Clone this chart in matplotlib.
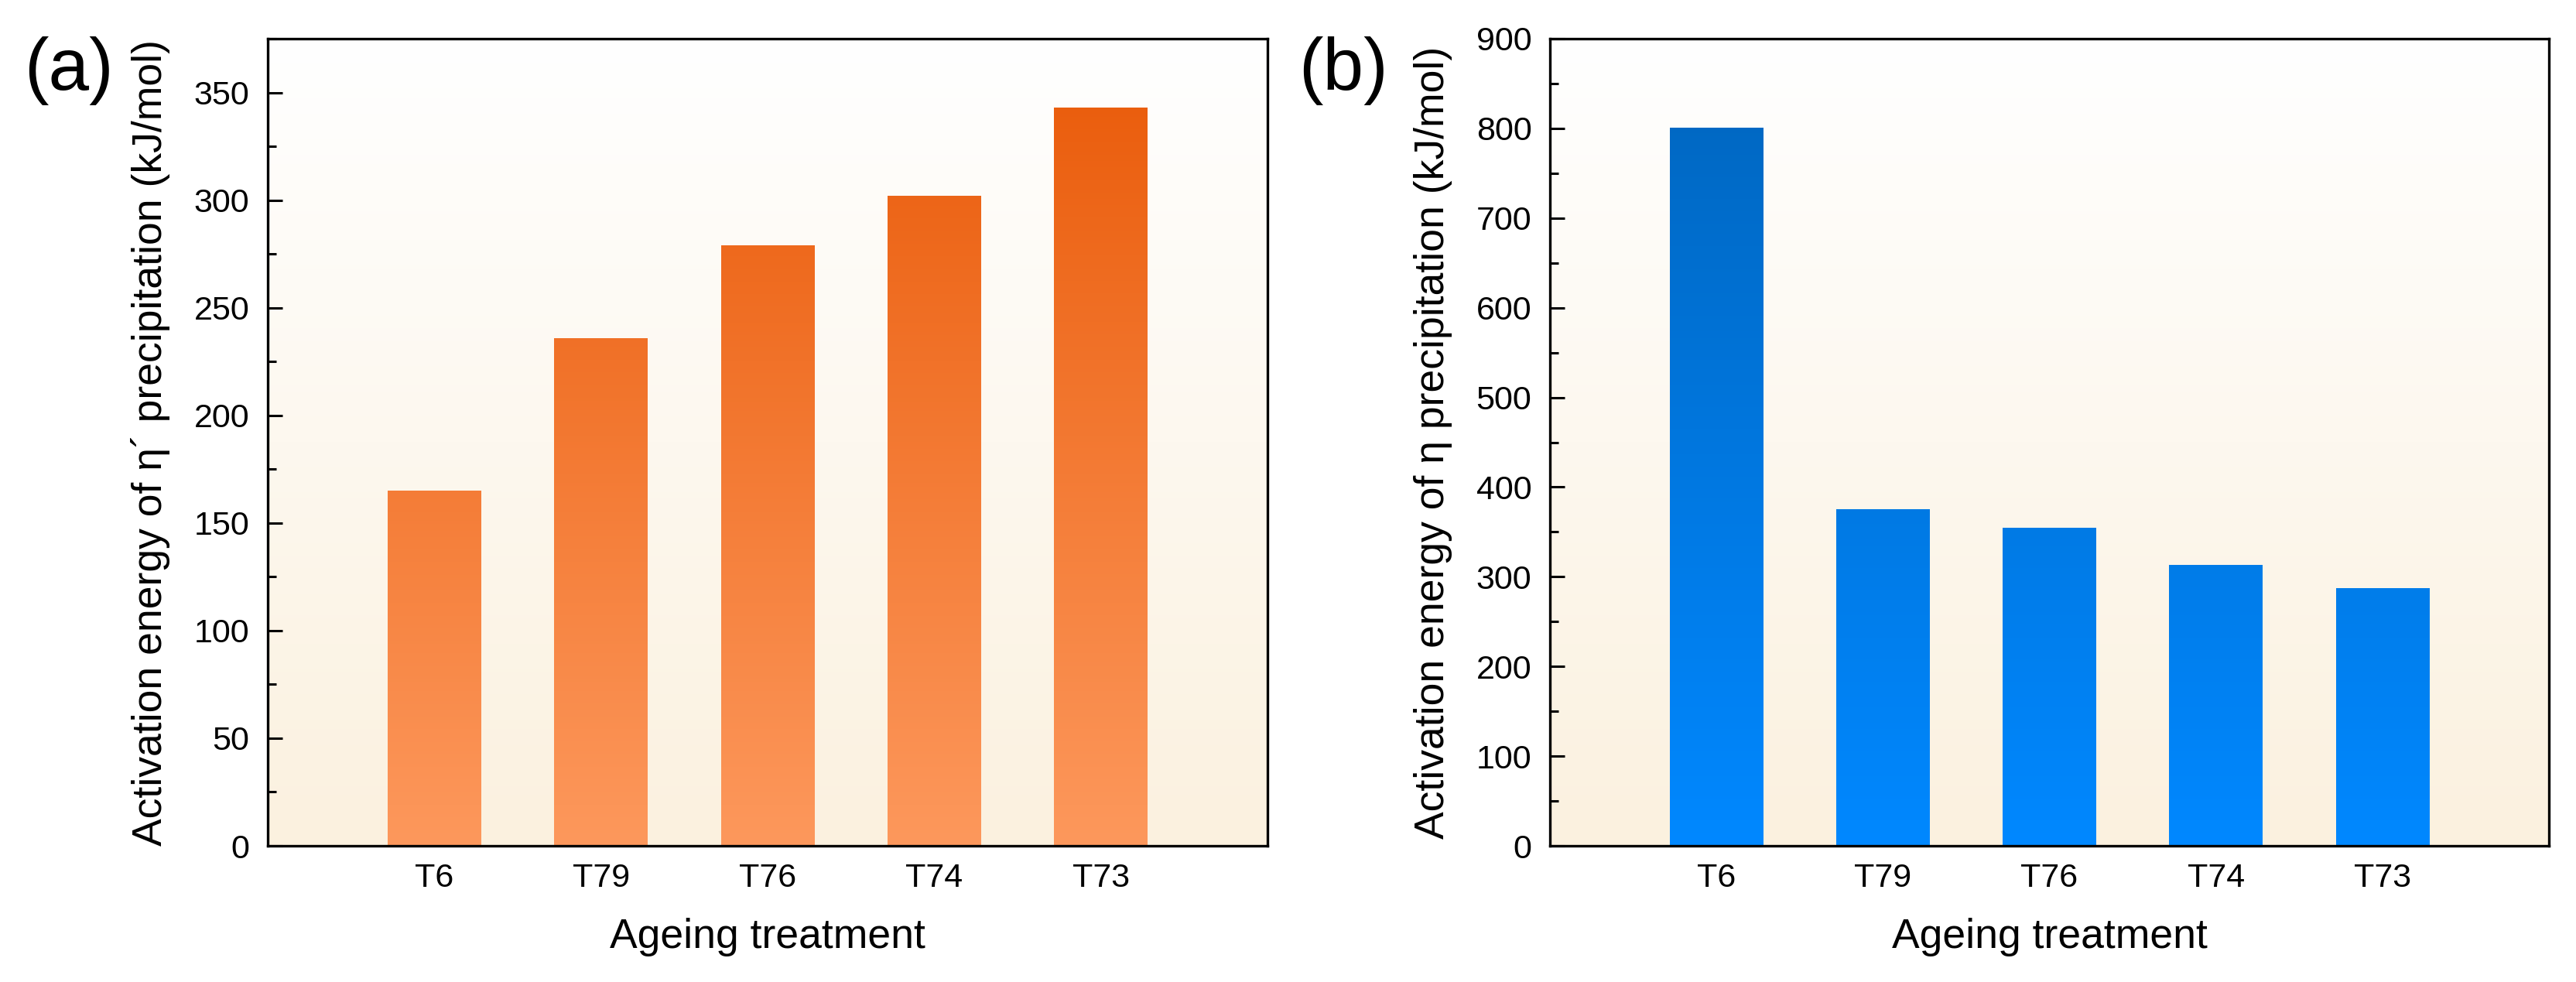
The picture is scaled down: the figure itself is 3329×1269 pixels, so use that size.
import matplotlib.pyplot as plt
import numpy as np
from matplotlib.colors import LinearSegmentedColormap

plt.rcParams['font.family'] = ['Liberation Sans', 'DejaVu Sans']

# Data
treatments = ['T6', 'T79', 'T76', 'T74', 'T73']
energy_eta_prime = [165, 236, 279, 302, 343]   # panel (a), kJ/mol
energy_eta = [801, 375, 355, 313, 287]         # panel (b), kJ/mol

# Colours: bars get a vertical gradient, background fades from cream to white
orange_cmap = LinearSegmentedColormap.from_list('orange', ['#FD985C', '#E95907'])
blue_cmap = LinearSegmentedColormap.from_list('blue', ['#0088FF', '#0065BD'])
back_cmap = LinearSegmentedColormap.from_list('back', ['#FBF1DF', '#FFFFFF'])

fig = plt.figure(figsize=(33.29, 12.69), dpi=100)
ax_a = fig.add_axes([0.10393, 0.13869, 0.38810, 0.82191])
ax_b = fig.add_axes([0.60168, 0.13869, 0.38780, 0.82191])


def draw_panel(ax, values, ymax, major, minor, cmap, ylabel):
    x = np.arange(1, len(values) + 1)
    ax.set_xlim(0, 6)
    ax.set_ylim(0, ymax)

    # background gradient
    grad = np.linspace(0, 1, 256).reshape(-1, 1)
    ax.imshow(grad, extent=[0, 6, 0, ymax], origin='lower', aspect='auto',
              cmap=back_cmap, zorder=0)

    # bars, filled with a gradient clipped to each bar
    bars = ax.bar(x, values, width=0.56, color='none', edgecolor='none', zorder=2)
    for bar in bars:
        x0 = bar.get_x()
        im = ax.imshow(grad, extent=[x0, x0 + bar.get_width(), 0, ymax],
                       origin='lower', aspect='auto', cmap=cmap, zorder=1)
        im.set_clip_path(bar)
    ax.set_xlim(0, 6)
    ax.set_ylim(0, ymax)

    ax.set_xticks(x)
    ax.set_xticklabels(treatments)
    ax.set_yticks(np.arange(0, ymax + 1, major))
    ax.set_yticks(np.arange(0, ymax + 1, minor), minor=True)

    ax.tick_params(axis='x', length=0, pad=16, labelsize=31)
    ax.tick_params(axis='y', which='major', direction='in', length=14,
                   width=2.2, pad=17, labelsize=31)
    ax.tick_params(axis='y', which='minor', direction='in', length=8, width=2.2)
    for side in ax.spines.values():
        side.set_linewidth(2.4)
        side.set_zorder(3)

    ax.set_xlabel('Ageing treatment', fontsize=38.5, labelpad=22)
    ax.set_ylabel(ylabel, fontsize=38.5, labelpad=22)


draw_panel(ax_a, energy_eta_prime, 375, 50, 25, orange_cmap,
           'Activation energy of \u03b7\u00b4 precipitation (kJ/mol)')
draw_panel(ax_b, energy_eta, 900, 100, 50, blue_cmap,
           'Activation energy of \u03b7 precipitation (kJ/mol)')

# Panel letters
fig.text(31 / 3329, 1 - 92 / 1269, '(a)', fontsize=68, va='center', ha='left')
fig.text(1678 / 3329, 1 - 92 / 1269, '(b)', fontsize=68, va='center', ha='left')

plt.savefig('out.png', dpi=100)
